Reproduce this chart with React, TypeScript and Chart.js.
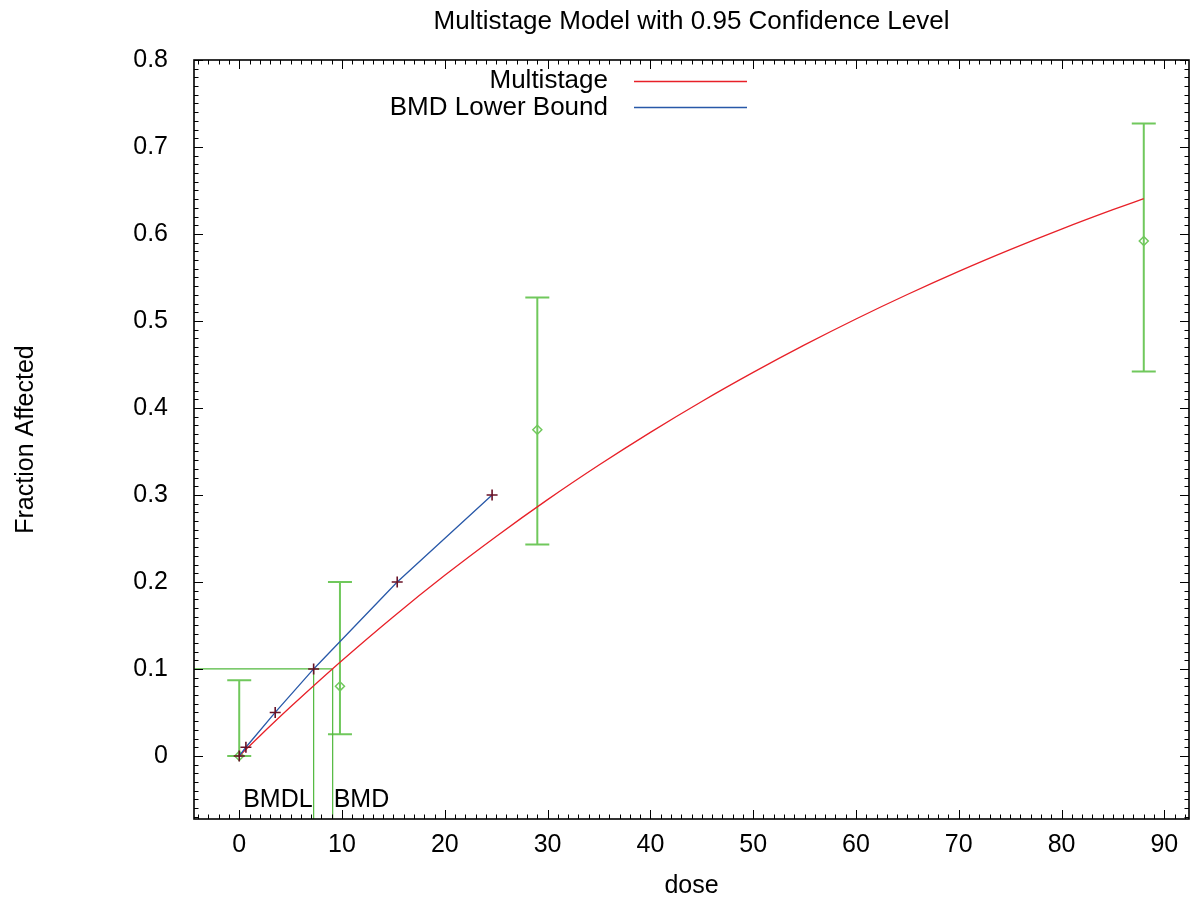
import React, { useEffect, useRef } from 'react';
import { Chart, registerables } from 'chart.js';

Chart.register(...registerables);

// ---------- texts ----------
const titleText = 'Multistage Model with 0.95 Confidence Level';
const xAxisTitle = 'dose';
const yAxisTitle = 'Fraction Affected';
const legendLabels = ['Multistage', 'BMD Lower Bound'];
const bmdLabels = ['BMDL', 'BMD'];

// ---------- axes ----------
const xRange = [-4.4, 92.4];
const yRange = [-0.0725, 0.8];
const xTickValues = [0, 10, 20, 30, 40, 50, 60, 70, 80, 90];
const yTickValues = [0, 0.1, 0.2, 0.3, 0.4, 0.5, 0.6, 0.7, 0.8];

// ---------- fitted multistage curve ----------
const curveDose = [0, 2, 5, 8, 10, 15, 20, 25, 30, 35, 40, 45, 50, 55, 60, 65, 70, 75, 80, 85, 88];
const curveFrac = [0, 0.023, 0.0565, 0.0888, 0.1098, 0.1601, 0.2076, 0.2523, 0.2946, 0.3344, 0.372, 0.4075, 0.4409, 0.4725, 0.5023, 0.5304, 0.557, 0.582, 0.6056, 0.6279, 0.6407];

// ---------- BMD lower bound line ----------
const lowerBoundDose = [0, 0.65, 3.5, 7.24, 15.37, 24.6];
const lowerBoundFrac = [0, 0.01, 0.05, 0.1, 0.2, 0.3];

// ---------- observed data with confidence bars ----------
const obsDose = [0, 9.8, 29.0, 88.0];
const obsFrac = [0, 0.08, 0.375, 0.592];
const obsLower = [0, 0.025, 0.243, 0.442];
const obsUpper = [0.087, 0.2, 0.527, 0.727];

// ---------- benchmark ----------
const bmr = 0.1;
const bmd = 9.09;
const bmdl = 7.24;

// ---------- styles ----------
const FONT = "'Liberation Sans', Arial, Helvetica, sans-serif";
const FONT_SIZE = 25;
const TITLE_SIZE = 26;
const RED = 'rgb(232, 32, 40)';
const BLUE = 'rgb(40, 88, 168)';
const PLUS = 'rgb(105, 18, 38)';
const ERR_GREEN = 'rgb(112, 200, 92)';
const LINE_GREEN = 'rgb(80, 184, 60)';

const pts = (xs: number[], ys: number[]) => xs.map((x, i) => ({ x, y: ys[i] }));

const decoPlugin = {
  id: 'gnuplotDeco',
  beforeDatasetsDraw(chart: any) {
    const ctx = chart.ctx;
    const xs = chart.scales.x;
    const ys = chart.scales.y;
    ctx.save();
    ctx.strokeStyle = ERR_GREEN;
    ctx.lineWidth = 2;
    obsDose.forEach((d, i) => {
      const px = xs.getPixelForValue(d);
      const lo = ys.getPixelForValue(obsLower[i]);
      const hi = ys.getPixelForValue(obsUpper[i]);
      ctx.beginPath();
      ctx.moveTo(px, lo);
      ctx.lineTo(px, hi);
      ctx.moveTo(px - 12, lo);
      ctx.lineTo(px + 12, lo);
      ctx.moveTo(px - 12, hi);
      ctx.lineTo(px + 12, hi);
      ctx.stroke();
    });
    ctx.restore();
  },
  afterDraw(chart: any) {
    const ctx = chart.ctx;
    const a = chart.chartArea;
    const xs = chart.scales.x;
    const ys = chart.scales.y;
    ctx.save();

    // inward ticks on all four sides
    ctx.strokeStyle = '#000';
    ctx.lineWidth = 1;
    ctx.beginPath();
    for (let k = Math.ceil(xRange[0]); k <= Math.floor(xRange[1]); k++) {
      const px = Math.round(xs.getPixelForValue(k)) + 0.5;
      const len = k % 10 === 0 ? 9 : 4.5;
      ctx.moveTo(px, a.bottom);
      ctx.lineTo(px, a.bottom - len);
      ctx.moveTo(px, a.top);
      ctx.lineTo(px, a.top + len);
    }
    for (let k = Math.ceil(yRange[0] * 100); k <= Math.floor(yRange[1] * 100); k++) {
      const py = Math.round(ys.getPixelForValue(k / 100)) + 0.5;
      const len = k % 10 === 0 ? 9 : 4.5;
      ctx.moveTo(a.left, py);
      ctx.lineTo(a.left + len, py);
      ctx.moveTo(a.right, py);
      ctx.lineTo(a.right - len, py);
    }
    ctx.stroke();

    // frame
    ctx.lineWidth = 1.6;
    ctx.strokeRect(a.left, a.top, a.right - a.left, a.bottom - a.top);

    ctx.fillStyle = '#000';
    ctx.textBaseline = 'alphabetic';

    // title
    ctx.font = `${TITLE_SIZE}px ${FONT}`;
    ctx.textAlign = 'center';
    ctx.fillText(titleText, (a.left + a.right) / 2, 29);

    // x axis title
    ctx.font = `${FONT_SIZE}px ${FONT}`;
    ctx.fillText(xAxisTitle, (a.left + a.right) / 2, 893);

    // y axis title
    ctx.save();
    ctx.translate(33, (a.top + a.bottom) / 2);
    ctx.rotate(-Math.PI / 2);
    ctx.textAlign = 'center';
    ctx.fillText(yAxisTitle, 0, 0);
    ctx.restore();

    // legend
    ctx.font = `${TITLE_SIZE}px ${FONT}`;
    const legendColors = [RED, BLUE];
    const legendBase = [88, 115];
    const legendLineY = [81.5, 107.5];
    legendLabels.forEach((lab, i) => {
      ctx.textAlign = 'right';
      ctx.fillStyle = '#000';
      ctx.fillText(lab, 608, legendBase[i]);
      ctx.strokeStyle = legendColors[i];
      ctx.lineWidth = 1.3;
      ctx.beginPath();
      ctx.moveTo(634, legendLineY[i]);
      ctx.lineTo(747, legendLineY[i]);
      ctx.stroke();
    });

    // BMD / BMDL labels
    ctx.font = `${FONT_SIZE}px ${FONT}`;
    ctx.fillStyle = '#000';
    ctx.textAlign = 'right';
    ctx.fillText(bmdLabels[0], xs.getPixelForValue(bmdl) - 1, 807);
    ctx.textAlign = 'left';
    ctx.fillText(bmdLabels[1], xs.getPixelForValue(bmd) + 1, 807);

    ctx.restore();
  },
};

export default function App() {
  const ref = useRef<HTMLCanvasElement | null>(null);

  useEffect(() => {
    if (!ref.current) return;
    const chart = new Chart(ref.current, {
      type: 'scatter',
      data: {
        datasets: [
          {
            label: 'lower bound markers',
            data: pts(lowerBoundDose, lowerBoundFrac),
            showLine: false,
            pointStyle: 'cross',
            pointRadius: 5.5,
            pointBorderColor: PLUS,
            pointBackgroundColor: PLUS,
            pointBorderWidth: 1.6,
            order: 0,
          } as any,
          {
            label: legendLabels[1],
            data: pts(lowerBoundDose, lowerBoundFrac),
            showLine: true,
            borderColor: BLUE,
            borderWidth: 1.3,
            pointRadius: 0,
            order: 1,
          },
          {
            label: legendLabels[0],
            data: pts(curveDose, curveFrac),
            showLine: true,
            borderColor: RED,
            borderWidth: 1.3,
            pointRadius: 0,
            cubicInterpolationMode: 'monotone',
            order: 2,
          } as any,
          {
            label: 'observed',
            data: pts(obsDose, obsFrac),
            showLine: false,
            pointStyle: 'rectRot',
            pointRadius: 4.5,
            pointBorderColor: ERR_GREEN,
            pointBackgroundColor: 'rgba(0,0,0,0)',
            pointBorderWidth: 1.5,
            order: 3,
          } as any,
          {
            label: 'bmr line',
            data: pts([xRange[0], bmd], [bmr, bmr]),
            showLine: true,
            borderColor: LINE_GREEN,
            borderWidth: 1.2,
            pointRadius: 0,
            order: 4,
          },
          {
            label: 'bmdl line',
            data: pts([bmdl, bmdl], [bmr, yRange[0]]),
            showLine: true,
            borderColor: LINE_GREEN,
            borderWidth: 1.2,
            pointRadius: 0,
            order: 4,
          },
          {
            label: 'bmd line',
            data: pts([bmd, bmd], [bmr, yRange[0]]),
            showLine: true,
            borderColor: LINE_GREEN,
            borderWidth: 1.2,
            pointRadius: 0,
            order: 4,
          },
        ],
      },
      options: {
        animation: false,
        responsive: false,
        layout: { autoPadding: false, padding: { top: 60, right: 2, left: 0, bottom: 0 } },
        plugins: {
          legend: { display: false },
          title: { display: false },
          tooltip: { enabled: false },
        },
        scales: {
          x: {
            type: 'linear',
            min: xRange[0],
            max: xRange[1],
            grid: { display: false, drawTicks: false, tickLength: 0 },
            border: { display: false },
            ticks: {
              font: { family: FONT, size: FONT_SIZE },
              color: '#000',
              padding: 11,
              maxRotation: 0,
              autoSkip: false,
              callback: (v: any) => String(v),
            },
            afterBuildTicks: (s: any) => {
              s.ticks = xTickValues.map((v) => ({ value: v }));
            },
            afterFit: (s: any) => {
              s.height = 80;
              s.paddingLeft = 0;
              s.paddingRight = 0;
            },
          },
          y: {
            type: 'linear',
            min: yRange[0],
            max: yRange[1],
            grid: { display: false, drawTicks: false, tickLength: 0 },
            border: { display: false },
            ticks: {
              font: { family: FONT, size: FONT_SIZE },
              color: '#000',
              padding: 26,
              autoSkip: false,
              callback: (v: any) => String(Math.round(Number(v) * 10) / 10),
            },
            afterBuildTicks: (s: any) => {
              s.ticks = yTickValues.map((v) => ({ value: v }));
            },
            afterFit: (s: any) => {
              s.width = 194;
              s.paddingTop = 0;
              s.paddingBottom = 0;
            },
          },
        },
      } as any,
      plugins: [decoPlugin],
    });
    return () => chart.destroy();
  }, []);

  return (
    <div style={{ position: 'absolute', left: 0, top: 0, width: 1191, height: 899, background: '#fff' }}>
      <canvas ref={ref} width={1191} height={899} style={{ display: 'block' }} />
    </div>
  );
}
